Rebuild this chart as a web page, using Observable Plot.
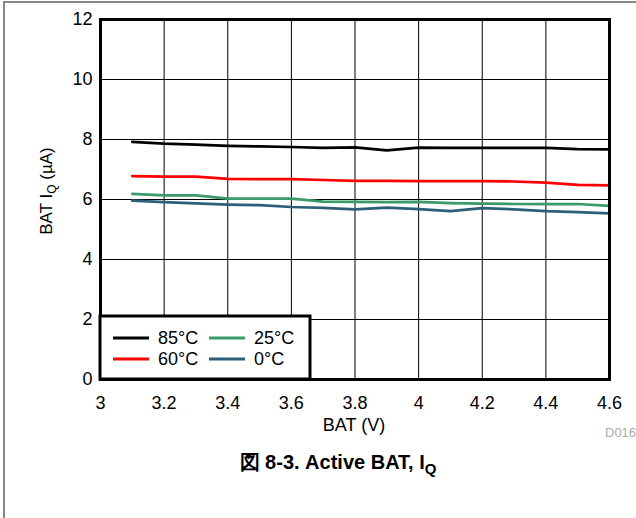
<!DOCTYPE html>
<html>
<head>
<meta charset="utf-8">
<script src="https://cdn.jsdelivr.net/npm/d3@7"></script>
<script src="https://cdn.jsdelivr.net/npm/@observablehq/plot@0.6"></script>
<style>
  html, body { margin: 0; padding: 0; background: #fff; }
  #wrap { position: relative; width: 636px; height: 518px; overflow: hidden; font-family: "Liberation Sans", Arial, sans-serif; }
  #bl { position: absolute; left: 3px; top: 1px; width: 2px; height: 517px; background: #888; }
  #bt { position: absolute; left: 3px; top: 1px; width: 633px; height: 2px; background: #888; }
  #chart { position: absolute; left: 0; top: 0; }
  #caption { position: absolute; top: 452px; left: 338px; transform: translateX(-50%); white-space: nowrap; font-weight: bold; font-size: 20px; line-height: 1; color: #000; }
  #caption sub { font-size: 15px; vertical-align: -5px; line-height: 0; }
</style>
</head>
<body>
<div id="wrap">
  <div id="chart"></div>
  <div id="bl"></div>
  <div id="bt"></div>
  <div id="caption">図 8-3. Active BAT, I<sub>Q</sub></div>
</div>
<script>
// Battery voltage (V)
const bat = [3.1, 3.2, 3.3, 3.4, 3.5, 3.6, 3.7, 3.8, 3.9, 4.0, 4.1, 4.2, 4.3, 4.4, 4.5, 4.6];
// BAT IQ (µA) per temperature
const iq85 = [7.92, 7.86, 7.83, 7.79, 7.77, 7.75, 7.72, 7.74, 7.64, 7.73, 7.72, 7.72, 7.72, 7.72, 7.68, 7.67];
const iq60 = [6.78, 6.76, 6.76, 6.69, 6.68, 6.68, 6.65, 6.62, 6.62, 6.61, 6.61, 6.61, 6.60, 6.56, 6.49, 6.47];
const iq25 = [6.19, 6.14, 6.14, 6.03, 6.03, 6.03, 5.93, 5.92, 5.91, 5.92, 5.88, 5.86, 5.85, 5.85, 5.85, 5.79];
const iq0  = [5.96, 5.91, 5.87, 5.83, 5.81, 5.75, 5.72, 5.67, 5.73, 5.68, 5.61, 5.71, 5.67, 5.61, 5.58, 5.54];

const seriesNames = ["85°C", "60°C", "25°C", "0°C"];
const seriesColors = ["#000000", "#ff0000", "#3a9a6a", "#2e5f78"];
const seriesValues = [iq85, iq60, iq25, iq0];

const xTicks = [3, 3.2, 3.4, 3.6, 3.8, 4, 4.2, 4.4, 4.6];
const yTicks = [0, 2, 4, 6, 8, 10, 12];

const data = seriesNames.flatMap((name, s) =>
  bat.map((v, i) => ({ bat: v, iq: seriesValues[s][i], name })));

const font = "'Liberation Sans', Arial, sans-serif";

const chart = Plot.plot({
  width: 636,
  height: 440,
  marginTop: 19,
  marginBottom: 61,
  marginLeft: 100,
  marginRight: 27,
  style: { fontFamily: font, fontSize: "18px", background: "transparent", color: "#000", overflow: "visible" },
  x: { domain: [3, 4.6], label: null },
  y: { domain: [0, 12], label: null },
  color: { domain: seriesNames, range: seriesColors },
  marks: [
    Plot.gridX(xTicks, { stroke: "#000", strokeOpacity: 1, strokeWidth: 1 }),
    Plot.gridY(yTicks, { stroke: "#000", strokeOpacity: 1, strokeWidth: 1 }),
    Plot.axisX(xTicks, { tickSize: 0, tickPadding: 17, fontSize: 18, label: null, tickFormat: d => String(d) }),
    Plot.axisY(yTicks, { tickSize: 0, tickPadding: 8, fontSize: 18, label: null, tickFormat: d => String(d) }),
    Plot.line(data, { x: "bat", y: "iq", stroke: "name", strokeWidth: 2.75, z: "name" }),
    Plot.frame({ stroke: "#000", strokeWidth: 3 })
  ]
});

document.getElementById("chart").appendChild(chart);

const svg = d3.select(chart);

// Axis titles
const yl = svg.append("text")
  .attr("transform", "translate(52,191) rotate(-90)")
  .attr("text-anchor", "middle")
  .attr("font-family", font).attr("font-size", 17).attr("fill", "#000");
yl.append("tspan").text("BAT I");
yl.append("tspan").attr("font-size", 12).attr("dy", 4).text("Q");
yl.append("tspan").attr("dy", -4).text(" (µA)");

svg.append("text")
  .attr("x", 354).attr("y", 431)
  .attr("text-anchor", "middle")
  .attr("font-family", font).attr("font-size", 18).attr("fill", "#000")
  .text("BAT (V)");

svg.append("text")
  .attr("x", 605).attr("y", 437)
  .attr("text-anchor", "start")
  .attr("font-family", font).attr("font-size", 13).attr("fill", "#aaa")
  .text("D016");

// Legend
const lg = svg.append("g").attr("text-anchor", "start");
lg.append("rect")
  .attr("x", 100).attr("y", 316).attr("width", 210).attr("height", 63)
  .attr("fill", "#fff").attr("stroke", "#000").attr("stroke-width", 3);
const cols = [113, 209];
const rows = [338, 359];
seriesNames.forEach((name, i) => {
  const cx = cols[Math.floor(i / 2)], cy = rows[i % 2];
  lg.append("line")
    .attr("x1", cx).attr("x2", cx + 36).attr("y1", cy).attr("y2", cy)
    .attr("stroke", seriesColors[i]).attr("stroke-width", 3);
  lg.append("text")
    .attr("x", cx + 45).attr("y", cy + 6)
    .attr("text-anchor", "start")
    .attr("font-family", font).attr("font-size", 18).attr("fill", "#000")
    .text(name);
});
</script>
</body>
</html>
